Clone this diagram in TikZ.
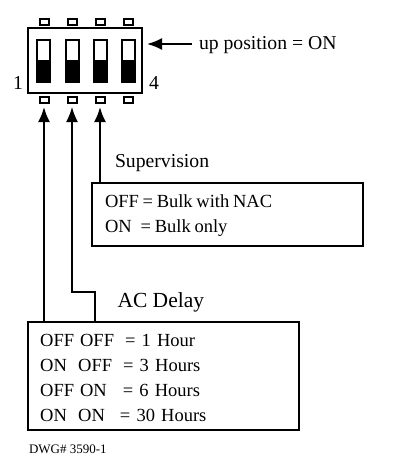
\documentclass[tikz,border=0pt]{standalone}
\usepackage{fontspec}
\setmainfont{Liberation Serif}
\usetikzlibrary{arrows.meta}

\begin{document}
\begin{tikzpicture}[x=1pt, y=-1pt, >={Latex[length=15pt,width=12pt]},
  line width=2pt,
  pin/.style={draw, minimum width=9pt, minimum height=6pt, inner sep=0pt},
  slider/.style={draw, minimum width=13pt, minimum height=42pt, inner sep=0pt},
  label/.style={inner sep=0pt, anchor=base west, font=\fontsize{19.7}{23}\selectfont},
  txtbox/.style={draw, anchor=north west, align=left, inner ysep=0pt,
    font=\fontsize{18.5}{25}\selectfont}]
  \useasboundingbox (0,0) rectangle (400,472);

  % switch body
  \node [draw, anchor=north west, minimum width=114pt, minimum height=65.6pt, inner sep=0pt] (body) at (26.7,26.7) {};
  \foreach \n/\xx/\sx in {1/44/43.5, 2/72/72.5, 3/100/100.5, 4/128/128.5} {
    \node [pin] (pinT\n) at (\xx,22) {};
    \node [pin] (pinB\n) at (\xx,100) {};
    \node [slider] (slide\n) at (\sx,61) {};
    \fill (slide\n.west |- 0,60) rectangle (slide\n.south east);
  }
  \node [label] (one) at (12,89) {1};
  \node [label] (four) at (148,89) {4};

  % up position
  \coordinate (uptip) at (147,44);
  \coordinate (upstart) at (192,44);
  \node [label] (uplabel) at (198,49) {up position = ON};
  \draw [->] (upstart) -- (uptip);

  % supervision
  \node [label] (suplabel) at (114,167) {Supervision};
  \node [txtbox, text width=245pt, minimum height=63pt, inner xsep=13pt] (supbox) at (91,181.7)
    {\rule{0pt}{16pt}\spaceskip=3.7pt OFF = Bulk with NAC\\ON\hspace{9pt}= Bulk only};
  \draw [->, shorten >=3pt] (supbox.north -| pinB3) -- (pinB3);

  % ac delay
  \node [label, font=\fontsize{21.5}{25}\selectfont] (delaylabel) at (116.5,307) {AC Delay};
  \node [txtbox, text width=246.6pt, minimum height=108pt, inner xsep=12.5pt] (delaybox) at (26.7,320.7)
    {\rule{0pt}{16pt}OFF\hspace{6pt}OFF\hspace{11pt}= 1 Hour\\
     ON\hspace{11.3pt}OFF\hspace{11pt}= 3 Hours\\
     OFF\hspace{6pt}ON\hspace{16pt}= 6 Hours\\
     ON\hspace{11.3pt}ON\hspace{15pt}= 30 Hours};
  \coordinate (bend) at (95,292);
  \draw [->, shorten >=3pt] (delaybox.north -| pinB1) -- (pinB1);
  \draw [->, shorten >=3pt, line width=1.5pt] (delaybox.north -| bend) -- (bend) -| (pinB2);

  \node [label, font=\fontsize{13}{15}\selectfont] (dwg) at (28,453) {DWG\# 3590-1};
\end{tikzpicture}
\end{document}
